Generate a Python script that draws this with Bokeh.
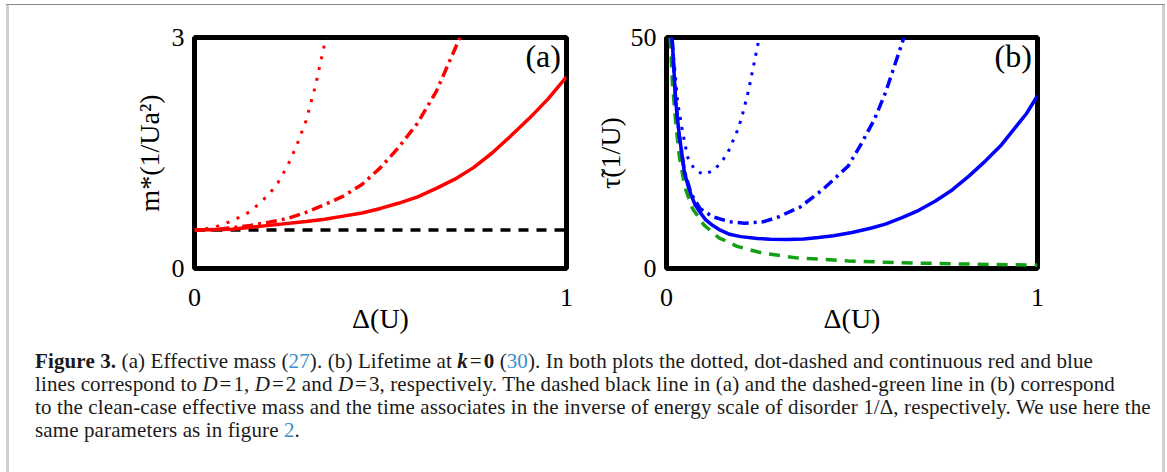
from bokeh.plotting import figure
from bokeh.layouts import column, row
from bokeh.models import Div, Range1d, Label, FixedTicker, Spacer
from bokeh.embed import file_html
from bokeh.resources import INLINE

# ---------------- Panel (a): effective mass m*(1/Ua^2) vs Delta(U) ----------------
delta_a_d1 = [0.0, 0.05, 0.1, 0.15, 0.2, 0.225, 0.25, 0.275, 0.3, 0.325, 0.35, 0.355]
mass_d1 = [0.5, 0.53, 0.615, 0.74, 0.96, 1.12, 1.33, 1.6, 1.92, 2.37, 2.92, 3.0]

delta_a_d2 = [0.0, 0.05, 0.1, 0.15, 0.2, 0.25, 0.3, 0.35, 0.4, 0.45, 0.5, 0.55, 0.6, 0.65, 0.7, 0.713]
mass_d2 = [0.5, 0.5, 0.53, 0.56, 0.6, 0.65, 0.73, 0.83, 0.94, 1.09, 1.31, 1.58, 1.89, 2.3, 2.85, 3.0]

delta_a_d3 = [0.0, 0.1, 0.2, 0.3, 0.35, 0.4, 0.45, 0.5, 0.55, 0.6, 0.65, 0.7, 0.75, 0.8, 0.85, 0.9, 0.95, 1.0]
mass_d3 = [0.5, 0.51, 0.56, 0.61, 0.64, 0.68, 0.72, 0.78, 0.85, 0.93, 1.04, 1.16, 1.31, 1.5, 1.72, 1.95, 2.2, 2.49]

delta_clean = [0.0, 1.0]
mass_clean = [0.5, 0.5]

# ---------------- Panel (b): lifetime tau~(1/U) vs Delta(U) ----------------
delta_b_d1 = [0.015, 0.03, 0.044, 0.057, 0.075, 0.098, 0.125, 0.148, 0.166, 0.18, 0.194, 0.207, 0.221, 0.235, 0.25]
tau_d1 = [50, 36, 29.3, 24.1, 21.5, 20.4, 21.1, 23, 25.2, 27.8, 30.4, 34, 38.5, 44, 50]

delta_b_d2 = [0.015, 0.025, 0.035, 0.048, 0.066, 0.09, 0.125, 0.17, 0.21, 0.26, 0.3, 0.36, 0.42, 0.49, 0.525, 0.56, 0.59, 0.615, 0.64]
tau_d2 = [50, 36, 28.5, 21.2, 16.3, 13, 11.2, 10.1, 9.8, 10.1, 11.1, 13.3, 17, 22.2, 27, 32.2, 38, 44, 50]

delta_b_d3 = [0.015, 0.025, 0.035, 0.048, 0.057, 0.066, 0.077, 0.09, 0.105, 0.125, 0.145, 0.17, 0.2, 0.245,
              0.28, 0.325, 0.37, 0.41, 0.45, 0.5, 0.55, 0.59, 0.635, 0.68, 0.725, 0.77, 0.815, 0.86, 0.9,
              0.935, 0.97, 1.0]
tau_d3 = [50, 36, 28.5, 21, 18.2, 16, 13.8, 12.2, 10.6, 9.3, 8.3, 7.4, 6.9, 6.5,
          6.35, 6.3, 6.4, 6.7, 7.1, 7.8, 8.7, 9.6, 11, 12.6, 14.6, 17, 20, 23.3, 26.5,
          30, 33.5, 37.4]

delta_b_clean = [0.01, 0.016, 0.025, 0.035, 0.05, 0.07, 0.1, 0.14, 0.19, 0.26, 0.35, 0.49, 0.62, 0.8, 1.0]
tau_clean = [50, 40, 31.5, 24, 17.5, 13, 9.5, 6.7, 4.8, 3.3, 2.3, 1.65, 1.27, 0.97, 0.73]

x_ticks = [0, 1]
y_ticks_a = [0, 3]
y_ticks_b = [0, 50]

RED = "#ff0000"
BLUE = "#0000ff"
GREEN = "#14a014"
SERIF = "Liberation Serif"


def style(p, xticks, yticks, ylab_standoff):
    p.outline_line_color = "black"
    p.outline_line_width = 5
    p.xgrid.visible = False
    p.ygrid.visible = False
    p.background_fill_color = "white"
    p.border_fill_color = "white"
    p.xaxis.ticker = FixedTicker(ticks=xticks)
    p.yaxis.ticker = FixedTicker(ticks=yticks)
    for ax in (p.xaxis[0], p.yaxis[0]):
        ax.axis_line_color = None
        ax.major_tick_line_color = None
        ax.minor_tick_line_color = None
        ax.major_label_text_font = SERIF
        ax.major_label_text_font_size = "26px"
        ax.major_label_text_color = "black"
        ax.axis_label_text_font = SERIF
        ax.axis_label_text_font_size = "28px"
        ax.axis_label_text_font_style = "normal"
        ax.axis_label_text_color = "black"
    p.xaxis.major_label_standoff = 14
    p.xaxis.axis_label_standoff = -6
    p.yaxis.major_label_standoff = 4
    p.yaxis.axis_label_standoff = ylab_standoff


pa = figure(width=571, height=338, x_range=Range1d(0, 1), y_range=Range1d(0, 3),
            output_backend="svg", toolbar_location=None,
            min_border_left=185, min_border_right=14, min_border_top=32, min_border_bottom=75,
            x_axis_label="Δ(U)", y_axis_label="m*(1/Ua²)")
style(pa, x_ticks, y_ticks_a, 4)
pa.line(delta_clean, mass_clean, color="black", line_width=3.5, line_dash="10 8")
pa.line(delta_a_d3, mass_d3, color=RED, line_width=3.5)
pa.line(delta_a_d2, mass_d2, color=RED, line_width=3.5, line_dash="11 5 3 5")
pa.line(delta_a_d1, mass_d1, color=RED, line_width=3, line_dash="3 8")
pa.add_layout(Label(x=0.985, y=3.0, text="(a)", text_align="right", text_baseline="top",
                    text_font=SERIF, text_font_size="32px", text_color="black"))

pb = figure(width=477, height=338, x_range=Range1d(0, 1), y_range=Range1d(0, 50),
            output_backend="svg", toolbar_location=None,
            min_border_left=86, min_border_right=20, min_border_top=32, min_border_bottom=75,
            x_axis_label="Δ(U)", y_axis_label="τ̃(1/U)")
style(pb, x_ticks, y_ticks_b, 2)
pb.line(delta_b_clean, tau_clean, color=GREEN, line_width=3.5, line_dash="11 8")
pb.line(delta_b_d3, tau_d3, color=BLUE, line_width=3.5)
pb.line(delta_b_d2, tau_d2, color=BLUE, line_width=3.5, line_dash="11 5 3 5")
pb.line(delta_b_d1, tau_d1, color=BLUE, line_width=3, line_dash="3 7")
pb.add_layout(Label(x=0.985, y=50.0, text="(b)", text_align="right", text_baseline="top",
                    text_font=SERIF, text_font_size="32px", text_color="black"))

LINK = "#3a8fc9"
caption = (
    '<div style="font-family:\'Liberation Serif\'; font-size:21px; line-height:23px; '
    'letter-spacing:0.12px; color:#1a1a1a; white-space:nowrap; padding:7px 0 0 26px;">'
    '<b>Figure 3.</b> (a) Effective mass (<span style="color:%s">27</span>). '
    '(b) Lifetime at <b><i>k</i></b>&#8202;=&#8202;<b>0</b> (<span style="color:%s">30</span>). '
    'In both plots the dotted, dot-dashed and continuous red and blue<br>'
    'lines correspond to <i>D</i>&#8202;=&#8202;1, <i>D</i>&#8202;=&#8202;2 and <i>D</i>&#8202;=&#8202;3, '
    'respectively. The dashed black line in (a) and the dashed-green line in (b) correspond<br>'
    'to the clean-case effective mass and the time associates in the inverse of energy scale of '
    'disorder 1/&Delta;, respectively. We use here the<br>'
    'same parameters as in figure <span style="color:%s">2</span>.'
    '</div>'
) % (LINK, LINK, LINK)
cap = Div(text=caption, width=1153, height=118, margin=0)

content = column(row(pa, pb), cap)

top_line = Div(text="", width=1159, height=1, margin=0, styles={"background-color": "#8a8a8a"})
left_line = Div(text="", width=3, height=467, margin=0, styles={"background-color": "#cfcfcf"})
right_line = Div(text="", width=3, height=467, margin=0, styles={"background-color": "#cfcfcf"})

layout = column(Spacer(height=4),
                row(Spacer(width=6), column(top_line, row(left_line, content, right_line))))

open("out.html", "w").write(file_html(layout, INLINE))
